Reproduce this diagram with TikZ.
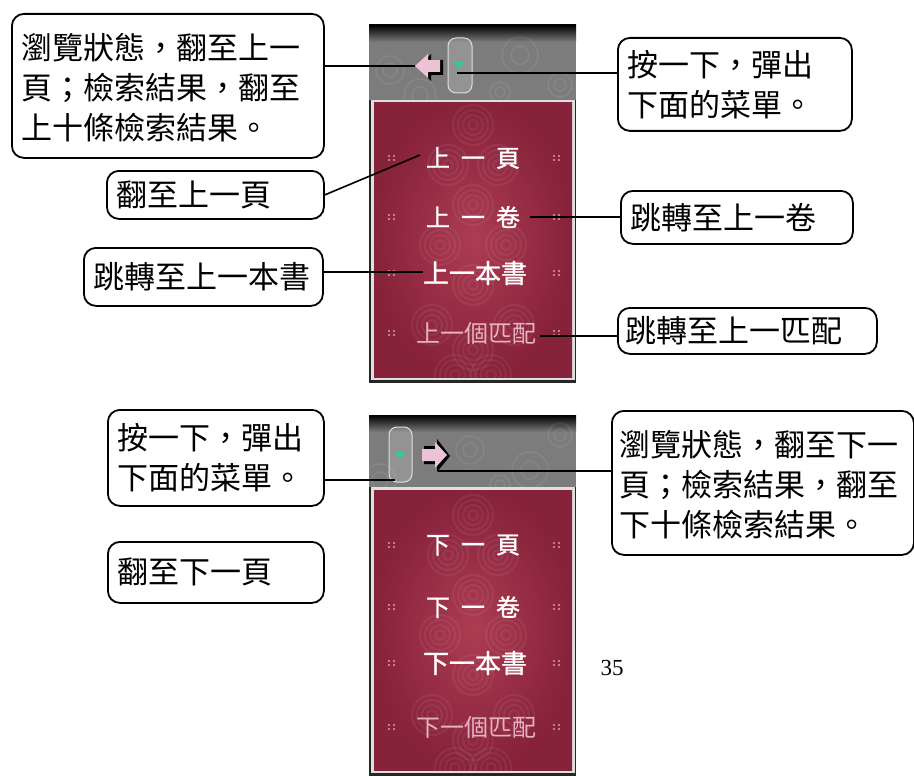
\documentclass[tikz,border=0pt]{standalone}
\usepackage{fontspec}
\setmainfont{Liberation Serif}
\newfontfamily\cjk{Noto Sans CJK TC}
\newfontfamily\cjkb[FakeBold=1.2]{Noto Sans CJK TC}
\usetikzlibrary{calc}
\definecolor{redmid}{HTML}{AC3C52}
\definecolor{reddark}{HTML}{86223A}
\definecolor{menupink}{HTML}{E6B4C0}
\definecolor{hdrgray}{HTML}{7C7C7C}
\definecolor{btngreen}{HTML}{2FC9A2}
\definecolor{arrowpink}{HTML}{EBC2D6}
\newcommand\myswirl[2]{%
  \foreach \rr in {5,10,15,20}{\draw[swirlline] (#1,#2) circle (\rr);}}
\newcommand\threelines[3]{\raisebox{-6pt}[\height][\depth]{\begin{tabular}{@{}l@{}}#1\\#2\\#3\end{tabular}}}
\begin{document}
\begin{tikzpicture}[x=1pt,y=-1pt,
  callout/.style={draw=black, line width=1.8pt, rounded corners=12pt, fill=white,
    anchor=north west, align=left, inner xsep=10pt, inner ysep=0pt,
    font=\cjk\fontsize{31}{40}\selectfont},
  conn/.style={draw=black, line width=1.6pt},
  menu/.style={text=white, inner sep=0pt, font=\cjkb\fontsize{24}{24}\selectfont},
  menudim/.style={text=menupink, inner sep=0pt, font=\cjk\fontsize{24}{24}\selectfont},
  swirlline/.style={draw=white, opacity=0.06, line width=2.2pt},
  hdrswirl/.style={draw=white, opacity=0.08, line width=1.5pt},
  dotmark/.style={fill=menupink, opacity=0.85},
  capsule/.style={draw=gray!25, line width=1pt, rounded corners=8pt, fill=gray!50, fill opacity=0.35},
]
\useasboundingbox (0,0) rectangle (914,776);

% ---------------- top screenshot ----------------
\fill[black!85] (369,25) rectangle (576,383);
\fill[hdrgray] (369,25) rectangle (576,100);
\shade[top color=black, bottom color=hdrgray] (369,25) rectangle (576,42);
\begin{scope}
  \clip (369,25) rectangle (576,100);
  \foreach \cx/\cy/\rr in {390/70/14, 520/55/18, 560/85/12, 500/92/10, 420/95/16}{\draw[hdrswirl] (\cx,\cy) circle (\rr); \draw[hdrswirl] (\cx,\cy) circle (\rr*0.5);}
\end{scope}
\fill[gray!25] (371,100) rectangle (575,380);
\shade[inner color=redmid, outer color=reddark] (374,103) rectangle (572,377);
\begin{scope}
  \clip (374,103) rectangle (572,377);
  \foreach \cx/\cy in {473/125, 448/165, 498/165, 473/205, 440/245, 506/245, 473/285, 432/325, 514/325, 473/350, 455/375, 491/375}{\myswirl{\cx}{\cy}}
\end{scope}
% capsule button and green triangle
\draw[capsule] (448,38) rectangle (472,93);
\fill[btngreen] (454,62) -- (464,62) -- (459,69) -- cycle;
% left-pointing arrow
\fill[black] (418,68) -- (431,54) -- (431,60) -- (443,60) -- (443,75) -- (431,75) -- (431,81) -- cycle;
\fill[arrowpink] (415,66) -- (428,54) -- (428,60) -- (440,60) -- (440,72) -- (428,72) -- (428,78) -- cycle;
% menu items
\node[menu] (u1) at (473,158) {上\hspace{11pt}一\hspace{11pt}頁};
\node[menu] (u2) at (473,217) {上\hspace{11pt}一\hspace{11pt}卷};
\node[menu, font=\cjkb\fontsize{26}{26}\selectfont] (u3) at (475,273) {上一本書};
\node[menudim] (u4) at (476,333) {上一個匹配};
\foreach \yy in {158,217,273,333}{
  \foreach \xx in {389,554}{
    \fill[dotmark] (\xx,\yy-2) circle (1.1); \fill[dotmark] (\xx+5,\yy-2) circle (1.1);
    \fill[dotmark] (\xx,\yy+2) circle (1.1); \fill[dotmark] (\xx+5,\yy+2) circle (1.1);}}

% ---------------- bottom screenshot ----------------
\fill[black!85] (369,415) rectangle (576,776);
\fill[hdrgray] (369,415) rectangle (576,487);
\shade[top color=black, bottom color=hdrgray] (369,415) rectangle (576,432);
\begin{scope}
  \clip (369,415) rectangle (576,487);
  \foreach \cx/\cy/\rr in {470/450/14, 530/470/18, 560/435/12, 500/485/10, 380/480/16}{\draw[hdrswirl] (\cx,\cy) circle (\rr); \draw[hdrswirl] (\cx,\cy) circle (\rr*0.5);}
\end{scope}
\fill[gray!25] (371,487) rectangle (575,773);
\shade[inner color=redmid, outer color=reddark] (374,490) rectangle (572,770);
\begin{scope}
  \clip (374,490) rectangle (572,770);
  \foreach \cx/\cy in {473/515, 448/555, 498/555, 473/595, 440/635, 506/635, 473/675, 432/715, 514/715, 473/740, 455/768, 491/768}{\myswirl{\cx}{\cy}}
\end{scope}
\draw[capsule] (389,427) rectangle (412,482);
\fill[btngreen] (395,452) -- (405,452) -- (400,459) -- cycle;
% right-pointing arrow
\fill[black] (424,446) -- (437,446) -- (437,439) -- (450,456) -- (437,472) -- (437,464) -- (424,464) -- cycle;
\fill[arrowpink] (422,449) -- (435,449) -- (435,442) -- (447,455) -- (435,468) -- (435,461) -- (422,461) -- cycle;
\node[menu] (d1) at (473,545) {下\hspace{11pt}一\hspace{11pt}頁};
\node[menu] (d2) at (473,607) {下\hspace{11pt}一\hspace{11pt}卷};
\node[menu, font=\cjkb\fontsize{26}{26}\selectfont] (d3) at (475,663) {下一本書};
\node[menudim] (d4) at (476,727) {下一個匹配};
\foreach \yy in {545,607,663,727}{
  \foreach \xx in {389,554}{
    \fill[dotmark] (\xx,\yy-2) circle (1.1); \fill[dotmark] (\xx+5,\yy-2) circle (1.1);
    \fill[dotmark] (\xx,\yy+2) circle (1.1); \fill[dotmark] (\xx+5,\yy+2) circle (1.1);}}

% ---------------- connector targets ----------------
\coordinate (tA) at (415,66);
\coordinate (tB) at (457,73);
\coordinate (tC) at (420,155);
\coordinate (tD) at (530,217);
\coordinate (tE) at (423,272);
\coordinate (tF) at (540,336);
\coordinate (tG) at (395,480);
\coordinate (tI) at (438,471);

% ---------------- callout boxes ----------------
\node[callout, minimum width=312pt, minimum height=144pt, text width=292pt] (bA) at (11,13)
  {\threelines{瀏覽狀態，翻至上一}{頁；檢索結果，翻至}{上十條檢索結果。}};
\node[callout, minimum width=234pt, minimum height=93pt, text width=214pt] (bB) at (617,37)
  {按一下，彈出\\下面的菜單。};
\node[callout, minimum width=217pt, minimum height=48pt, text width=197pt] (bC) at (106,170)
  {翻至上一頁};
\node[callout, minimum width=232pt, minimum height=53pt, text width=212pt] (bD) at (620,190)
  {跳轉至上一卷};
\node[callout, minimum width=239pt, minimum height=58pt, text width=219pt, inner xsep=8pt] (bE) at (83,247)
  {跳轉至上一本書};
\node[callout, minimum width=259pt, minimum height=46pt, text width=243pt, inner xsep=8pt] (bF) at (617,307)
  {跳轉至上一匹配};
\node[callout, minimum width=216pt, minimum height=96pt, text width=196pt] (bG) at (107,409)
  {按一下，彈出\\下面的菜單。};
\node[callout, minimum width=216pt, minimum height=61pt, text width=196pt] (bH) at (107,541)
  {翻至下一頁};
\node[callout, minimum width=302pt, minimum height=144pt, text width=286pt, inner xsep=8pt] (bI) at (611,410)
  {\threelines{瀏覽狀態，翻至下一}{頁；檢索結果，翻至}{下十條檢索結果。}};
\node[font=\fontsize{23}{23}\selectfont, inner sep=0pt] (pg) at (612,668) {35};

% ---------------- connectors ----------------
\draw[conn] (bA.east |- tA) -- (tA);
\draw[conn] (tB) -- (bB.west |- tB);
\draw[conn] (bC.east) -- (tC);
\draw[conn] (tD) -- (bD.west |- tD);
\draw[conn] (bE.east |- tE) -- (tE);
\draw[conn] (tF) -- (bF.west |- tF);
\draw[conn] (bG.east |- tG) -- (tG);
\draw[conn] (tI) -- (bI.west |- tI);
\end{tikzpicture}
\end{document}
